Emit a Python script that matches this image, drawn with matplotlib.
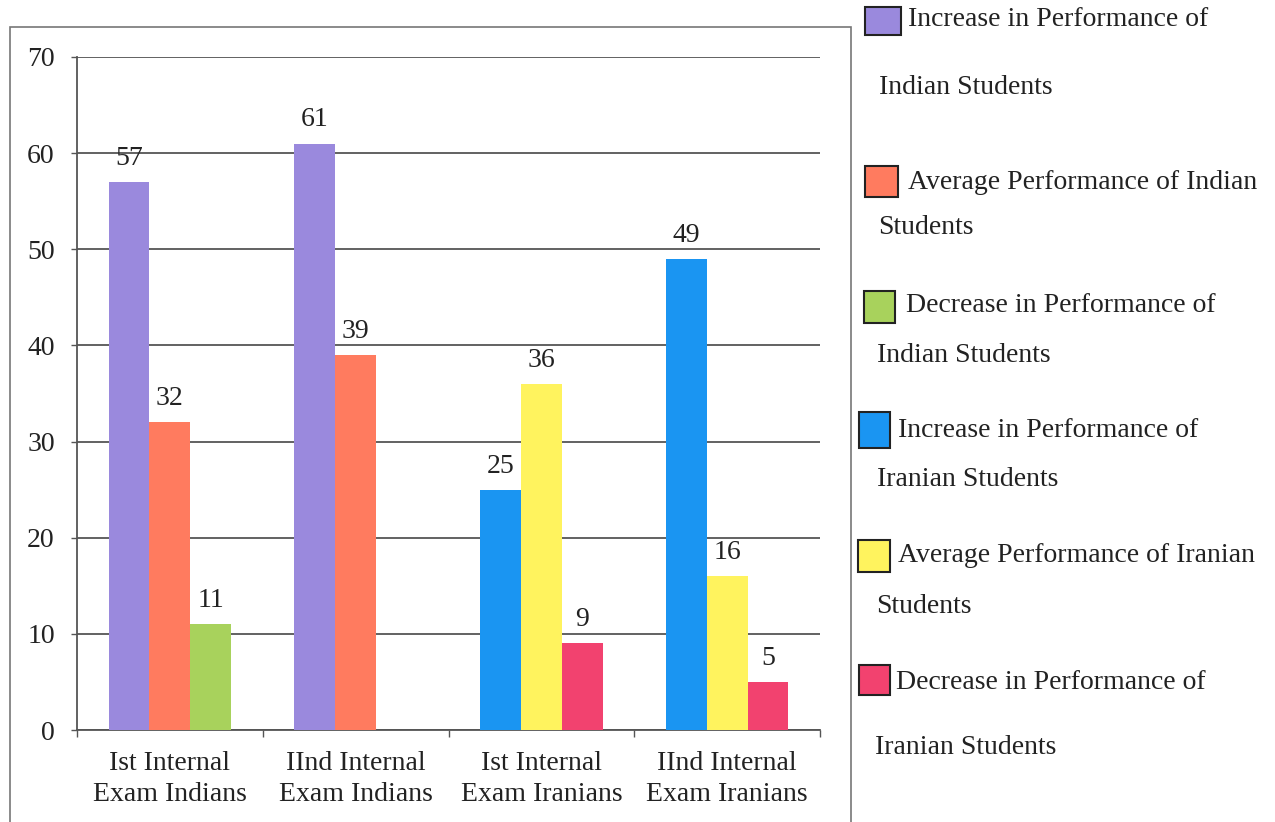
import numpy as np
import matplotlib
matplotlib.use("Agg")
import matplotlib.pyplot as plt
from matplotlib.patches import Rectangle

plt.rcParams['font.family'] = ['Liberation Serif', 'DejaVu Serif']

categories = ["Ist Internal\nExam Indians", "IInd Internal\nExam Indians",
              "Ist Internal\nExam Iranians", "IInd Internal\nExam Iranians"]

nan = np.nan
increase_indian = [57, 61, nan, nan]
average_indian = [32, 39, nan, nan]
decrease_indian = [11, nan, nan, nan]
increase_iranian = [nan, nan, 25, 49]
average_iranian = [nan, nan, 36, 16]
decrease_iranian = [nan, nan, 9, 5]

series_labels = [
    ("Increase in Performance of", "Indian Students"),
    ("Average Performance of Indian", "Students"),
    ("Decrease in Performance of", "Indian Students"),
    ("Increase in Performance of", "Iranian Students"),
    ("Average Performance of Iranian", "Students"),
    ("Decrease in Performance of", "Iranian Students"),
]
y_ticks = [0, 10, 20, 30, 40, 50, 60, 70]

series = [increase_indian, average_indian, decrease_indian,
          increase_iranian, average_iranian, decrease_iranian]
colors = ['#9A89DD', '#FF7B5F', '#A8D25C', '#1A95F2', '#FFF35E', '#F2426F']
slots = [-1, 0, 1, -1, 0, 1]

W, H = 1275, 822
fig = plt.figure(figsize=(W / 100, H / 100), dpi=100)
ax = fig.add_axes([77 / W, 1 - 730 / H, (820 - 77) / W, (730 - 57) / H])

x = np.arange(len(categories))
bw = 0.22
fs = 20
txt = '#222222'

for vals, col, s in zip(series, colors, slots):
    vals = np.array(vals, dtype=float)
    mask = ~np.isnan(vals)
    bars = ax.bar(x[mask] + s * bw, vals[mask], width=bw, color=col,
                  edgecolor='none', zorder=3)
    for b, v in zip(bars, vals[mask]):
        ax.annotate(f"{int(v)}", (b.get_x() + b.get_width() / 2, v),
                    xytext=(0, 8), textcoords='offset points',
                    ha='center', va='bottom', fontsize=fs, color=txt)

ax.set_xlim(-0.5, len(categories) - 0.5)
ax.set_ylim(0, 70)
ax.set_yticks(y_ticks)
ax.set_yticklabels([str(t) for t in y_ticks], fontsize=fs, color=txt)
ax.yaxis.grid(True, color='#555555', linewidth=1.3, zorder=0)
ax.tick_params(axis='y', length=4, width=1, color='#555555', pad=12)

ax.set_xticks(np.arange(len(categories) + 1) - 0.5)
ax.set_xticklabels([])
ax.set_xticks(x, minor=True)
ax.set_xticklabels(categories, minor=True, fontsize=fs, color=txt,
                   linespacing=1.35)
ax.tick_params(axis='x', which='major', length=5, width=1, color='#555555')
ax.tick_params(axis='x', which='minor', length=0, pad=15)

for side in ['top', 'right']:
    ax.spines[side].set_visible(False)
for side in ['left', 'bottom']:
    ax.spines[side].set_color('#555555')
    ax.spines[side].set_linewidth(1.3)

# outer chart frame
fig.patches.append(Rectangle((10 / W, 1 - 830 / H), (851 - 10) / W, (830 - 27) / H,
                             transform=fig.transFigure, fill=False,
                             edgecolor='#777777', linewidth=1.2))

# legend drawn as swatches with two-line captions
patch_boxes = [(865, 7, 36, 28), (865, 166, 33, 31), (864, 291, 31, 32),
               (859, 412, 31, 36), (858, 540, 32, 32), (859, 665, 31, 30)]
line1 = [(908, 20), (908, 182), (906, 305), (898, 430), (898, 555), (896, 682)]
line2 = [(879, 88), (878, 228), (877, 355), (877, 480), (876, 606), (875, 747)]

for (px, py, pw, ph), col, (t1, t2), (x1, y1), (x2, y2) in zip(
        patch_boxes, colors, series_labels, line1, line2):
    fig.patches.append(Rectangle((px / W, 1 - (py + ph) / H), pw / W, ph / H,
                                 transform=fig.transFigure, facecolor=col,
                                 edgecolor='#222222', linewidth=1.5))
    fig.text(x1 / W, 1 - y1 / H, t1, fontsize=fs, color=txt,
             ha='left', va='center')
    fig.text(x2 / W, 1 - y2 / H, t2, fontsize=fs, color=txt,
             ha='left', va='center')

fig.savefig("out.png", dpi=100)
